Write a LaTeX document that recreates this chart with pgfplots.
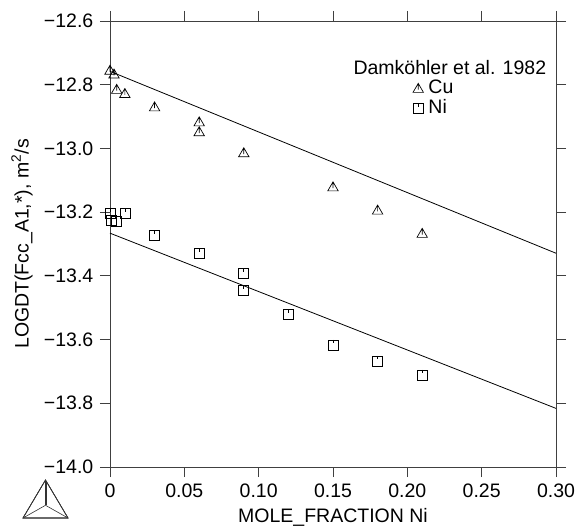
\documentclass[border=0pt]{standalone}
\usepackage{pgfplots}
\pgfplotsset{compat=1.18}
\usepackage{fontspec}
\setmainfont{Liberation Sans}

\pgfdeclareplotmark{cutri}{%
  \pgfpathmoveto{\pgfqpoint{-5.2pt}{-4.2pt}}%
  \pgfpathlineto{\pgfqpoint{5.2pt}{-4.2pt}}%
  \pgfpathlineto{\pgfqpoint{0pt}{4.8pt}}%
  \pgfpathclose
  \pgfpathmoveto{\pgfqpoint{0pt}{4.8pt}}%
  \pgfpathlineto{\pgfqpoint{0pt}{-1.5pt}}%
  \pgfusepathqstroke}
\pgfdeclareplotmark{nisq}{%
  \pgfpathrectangle{\pgfqpoint{-5pt}{-5pt}}{\pgfqpoint{10pt}{10pt}}%
  \pgfpathmoveto{\pgfqpoint{0pt}{5pt}}%
  \pgfpathlineto{\pgfqpoint{0pt}{1.5pt}}%
  \pgfusepathqstroke}

\pgfplotstableread{
x y
0 -12.754
0.0027 -12.766
0.0045 -12.814
0.010 -12.827
0.030 -12.869
0.060 -12.916
0.060 -12.947
0.090 -13.013
0.150 -13.120
0.180 -13.193
0.210 -13.266
}\cudata
\pgfplotstableread{
x y
0 -13.204
0.0012 -13.225
0.0045 -13.230
0.010 -13.204
0.030 -13.274
0.060 -13.329
0.090 -13.392
0.090 -13.447
0.120 -13.521
0.150 -13.617
0.180 -13.667
0.210 -13.711
}\nidata

\begin{document}
\fontsize{19.5}{22}\selectfont
\begin{tikzpicture}
\begin{axis}[
  at={(0pt,0pt)}, anchor=south west,
  scale only axis, width=446pt, height=446pt,
  xmin=0, xmax=0.30, ymin=-14.0, ymax=-12.6,
  axis line style={line width=0.8pt, draw=black!75},
  tick style={line width=0.8pt, draw=black!75},
  tick align=outside, major tick length=10pt,
  xtick={0,0.05,0.10,0.15,0.20,0.25,0.30},
  xticklabels={0,0.05,0.10,0.15,0.20,0.25,0.30},
  ytick={-14.0,-13.8,-13.6,-13.4,-13.2,-13.0,-12.8,-12.6},
  yticklabels={−14.0,−13.8,−13.6,−13.4,−13.2,−13.0,−12.8,−12.6},
  xticklabel pos=lower, yticklabel pos=left,
  tick label style={font=\fontsize{19.5}{22}\selectfont},
  label style={font=\fontsize{19.5}{22}\selectfont},
  xlabel={MOLE\_FRACTION Ni},
  ylabel={LOGDT(Fcc\_A1,*), m\textsuperscript{2}/s},
  xlabel style={at={(axis description cs:0.5,0)}, anchor=center, yshift=-50pt},
  ylabel style={at={(axis description cs:0,0.5)}, anchor=center, yshift=88pt},
  legend style={draw=none, fill=none, at={(rel axis cs:0.679,0.870)}, anchor=north west,
    inner sep=0pt, row sep=2pt, column sep=5pt, font=\fontsize{19.5}{22}\selectfont,
    nodes={inner sep=0pt, text height=14pt, text depth=4pt}},
  legend cell align=left,
  legend image code/.code={\draw[#1] plot coordinates {(0pt,0pt)};},
  clip=false,
]
\addplot[only marks, mark=cutri, line width=0.7pt, black] table[x=x,y=y] {\cudata};
\addlegendentry{Cu}
\addplot[only marks, mark=nisq, line width=0.7pt, black] table[x=x,y=y] {\nidata};
\addlegendentry{Ni}
\addplot[black, line width=0.8pt, forget plot] coordinates {(0,-12.758) (0.30,-13.329)};
\addplot[black, line width=0.8pt, forget plot] coordinates {(0,-13.266) (0.30,-13.816)};
\node[anchor=center] at (rel axis cs:0.762,0.895) {Damköhler et al. 1982};
\end{axis}
% Thermo-Calc style logo
\begin{scope}[line width=0.6pt, black!80]
  \coordinate (A) at (-87pt,-51pt);
  \coordinate (B) at (-42pt,-51pt);
  \coordinate (C) at (-64.5pt,-13pt);
  \coordinate (O) at (-64.5pt,-38.3pt);
  \draw (A) -- (B) -- (C) -- cycle;
  \draw[scale around={0.88:(O)}] (A) -- (B) -- (C) -- cycle;
  \draw[scale around={0.78:(O)}] (A) -- (B) -- (C) -- cycle;
  \draw (O) -- (A); \draw (O) -- (B); \draw (O) -- (C);
  \draw ([xshift=1.2pt]O) -- ([xshift=1.2pt,yshift=-2pt]C);
\end{scope}
\pgfresetboundingbox
\path (-110pt,-63pt) rectangle (474pt,467pt);
\end{tikzpicture}
\end{document}
